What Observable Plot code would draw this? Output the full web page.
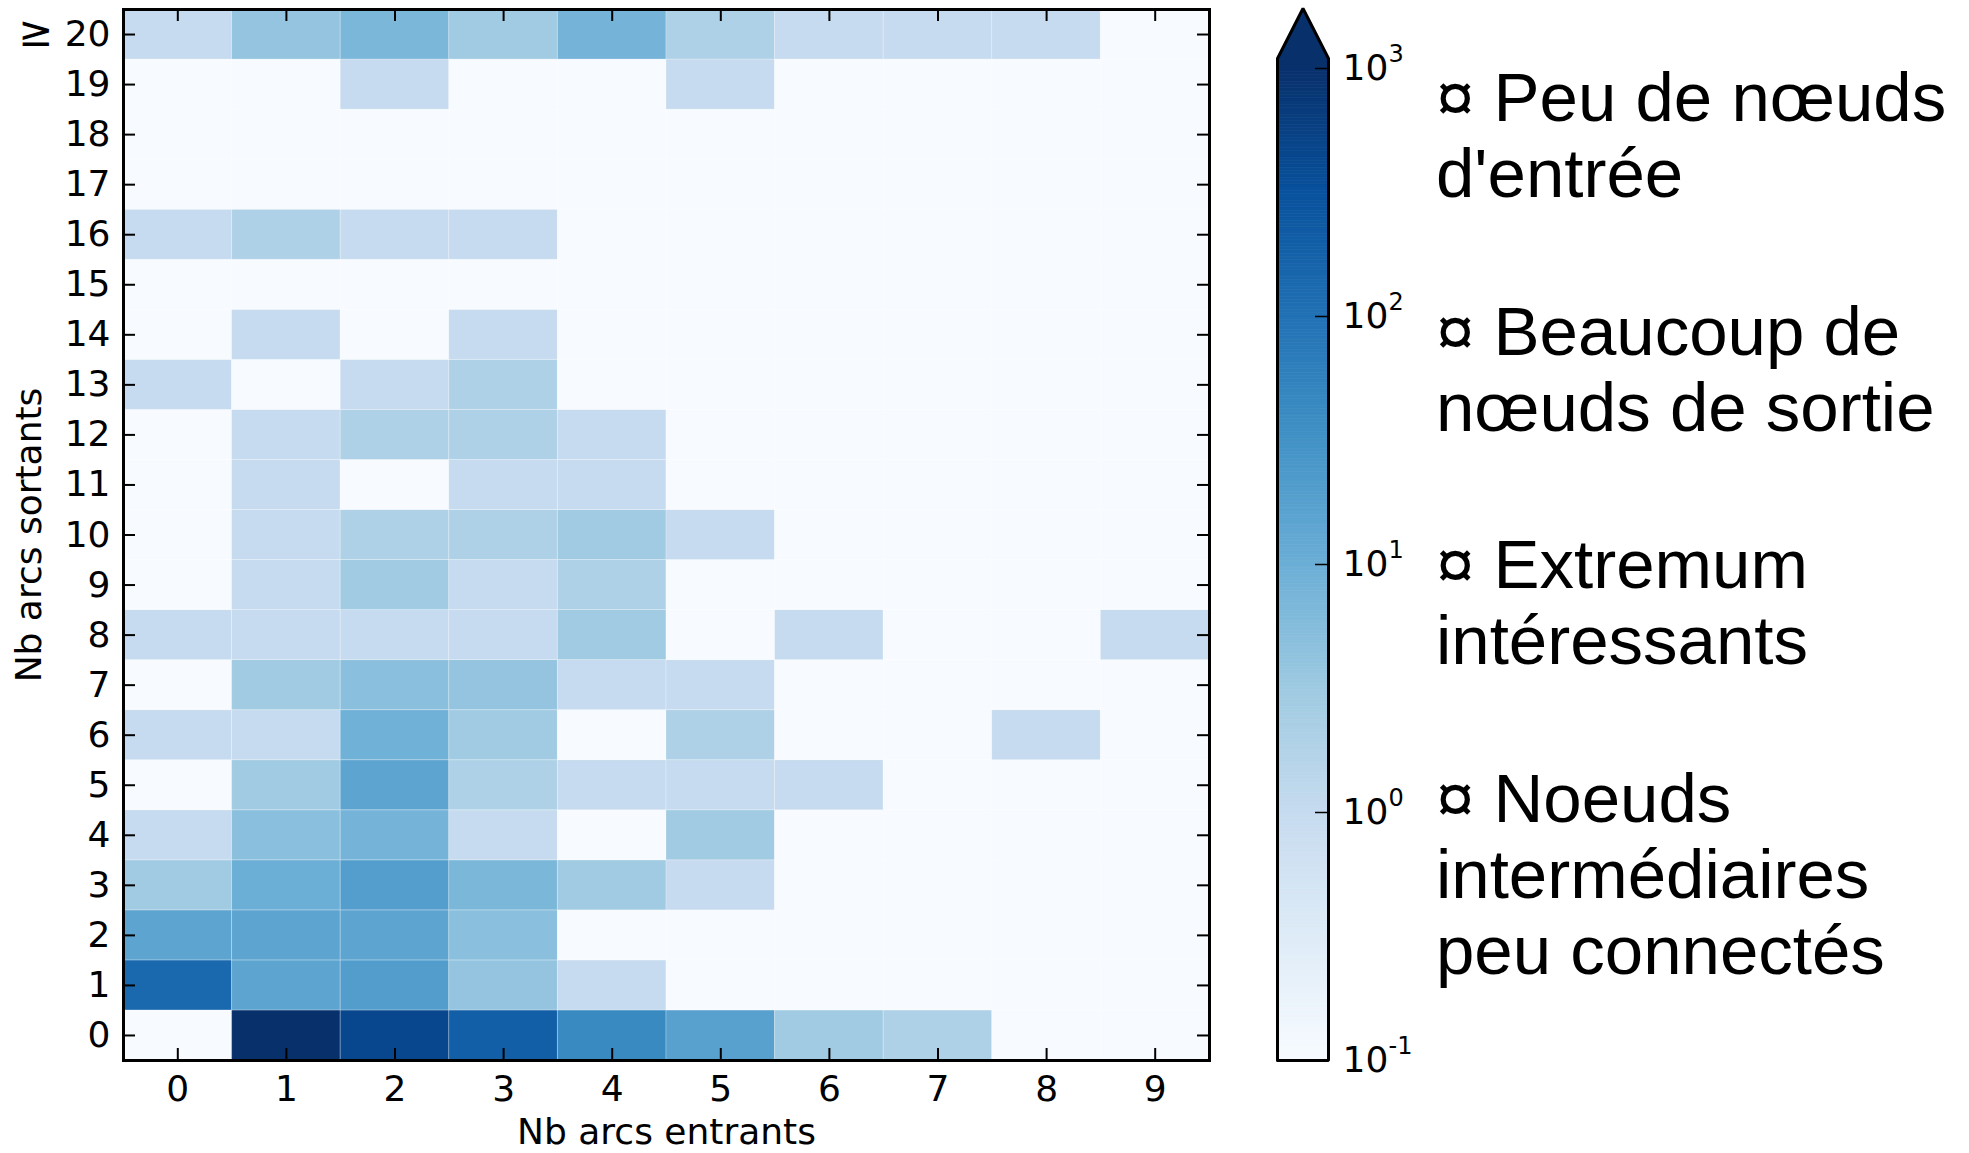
<!DOCTYPE html>
<html>
<head>
<meta charset="utf-8">
<script src="https://cdn.jsdelivr.net/npm/d3@7"></script>
<script src="https://cdn.jsdelivr.net/npm/@observablehq/plot@0.6"></script>
<style>
  html, body { margin: 0; padding: 0; background: #fff; }
  #wrap { position: relative; width: 1969px; height: 1153px; overflow: hidden; background: #fff; }
  #wrap svg { position: absolute; top: 0; }
  .leg { position: absolute; left: 1436px; font-family: "Liberation Sans", Arial, sans-serif;
         font-size: 69px; line-height: 76px; color: #000; white-space: nowrap; }
</style>
</head>
<body>
<div id="wrap"></div>
<script>
// ---- data ----
const cols = [0, 1, 2, 3, 4, 5, 6, 7, 8, 9];                 // Nb arcs entrants
const rows = [0, 1, 2, 3, 4, 5, 6, 7, 8, 9, 10, 11, 12, 13, 14, 15, 16, 17, 18, 19, 20]; // Nb arcs sortants
const colLabels = ["0", "1", "2", "3", "4", "5", "6", "7", "8", "9"];
const rowLabels = ["0", "1", "2", "3", "4", "5", "6", "7", "8", "9", "10", "11", "12", "13", "14",
                   "15", "16", "17", "18", "19", "≥ 20"];
// counts[row][col]
const counts = [
  [0, 1200, 450, 190, 42, 17, 3, 2, 0, 0],   // 0
  [140, 15, 20, 4, 1, 0, 0, 0, 0, 0],        // 1
  [15, 15, 15, 5, 0, 0, 0, 0, 0, 0],         // 2
  [3, 10, 19, 7, 3, 1, 0, 0, 0, 0],          // 3
  [1, 5, 8, 1, 0, 3, 0, 0, 0, 0],            // 4
  [0, 3, 15, 2, 1, 1, 1, 0, 0, 0],           // 5
  [1, 1, 9, 3, 0, 2, 0, 0, 1, 0],            // 6
  [0, 3, 5, 4, 1, 1, 0, 0, 0, 0],            // 7
  [1, 1, 1, 1, 3, 0, 1, 0, 0, 1],            // 8
  [0, 1, 3, 1, 2, 0, 0, 0, 0, 0],            // 9
  [0, 1, 2, 2, 3, 1, 0, 0, 0, 0],            // 10
  [0, 1, 0, 1, 1, 0, 0, 0, 0, 0],            // 11
  [0, 1, 2, 2, 1, 0, 0, 0, 0, 0],            // 12
  [1, 0, 1, 2, 0, 0, 0, 0, 0, 0],            // 13
  [0, 1, 0, 1, 0, 0, 0, 0, 0, 0],            // 14
  [0, 0, 0, 0, 0, 0, 0, 0, 0, 0],            // 15
  [1, 2, 1, 1, 0, 0, 0, 0, 0, 0],            // 16
  [0, 0, 0, 0, 0, 0, 0, 0, 0, 0],            // 17
  [0, 0, 0, 0, 0, 0, 0, 0, 0, 0],            // 18
  [0, 0, 1, 0, 0, 1, 0, 0, 0, 0],            // 19
  [1, 4, 7, 3, 8, 2, 1, 1, 1, 0]             // >= 20
];
const cbarDecades = [0.1, 1, 10, 100, 1000];
const cbarExponents = ["-1", "0", "1", "2", "3"];
const legendItems = [
  ["¤ Peu de nœuds", "d'entrée"],
  ["¤ Beaucoup de", "nœuds de sortie"],
  ["¤ Extremum", "intéressants"],
  ["¤ Noeuds", "intermédiaires", "peu connectés"]
];

// ---- colour scale (matplotlib "Blues", log norm 1e-1 .. 1e3) ----
const blues9 = ["#f7fbff", "#deebf7", "#c6dbef", "#9ecae1", "#6baed6", "#4292c6", "#2171b5", "#08519c", "#08306b"];
const colorScale = {type: "log", domain: [0.1, 1000], interpolate: d3.piecewise(d3.interpolateRgb, blues9), clamp: true};

const cells = rows.flatMap(r => cols.map(c => ({col: c, row: r, count: counts[r][c]})));

const W = 1969, H = 1153;
const mL = 123, mR = 760, mT = 9, mB = 93;
const frameW = W - mL - mR, frameH = H - mT - mB;
const tickLen = 12;
const font = "DejaVu Sans";

const main = Plot.plot({
  width: W, height: H,
  marginLeft: mL, marginRight: mR, marginTop: mT, marginBottom: mB,
  x: {domain: [-0.5, 9.5]},
  y: {domain: [-0.5, 20.5]},
  color: colorScale,
  style: {fontFamily: font, background: "transparent", maxWidth: "none", overflow: "visible"},
  marks: [
    Plot.rect(cells, {
      x1: d => d.col - 0.5, x2: d => d.col + 0.5,
      y1: d => d.row - 0.5, y2: d => d.row + 0.5,
      fill: d => Math.max(d.count, 0.1),
      stroke: "#ffffff", strokeOpacity: 0.25, strokeWidth: 1
    }),
    // inward ticks on all four sides
    Plot.tickX(cols, {x: d => d, insetTop: frameH - tickLen, stroke: "black", strokeWidth: 2}),
    Plot.tickX(cols, {x: d => d, insetBottom: frameH - tickLen, stroke: "black", strokeWidth: 2}),
    Plot.tickY(rows, {y: d => d, insetRight: frameW - tickLen, stroke: "black", strokeWidth: 2}),
    Plot.tickY(rows, {y: d => d, insetLeft: frameW - tickLen, stroke: "black", strokeWidth: 2}),
    Plot.axisX(cols, {anchor: "bottom", tickSize: 0, tickPadding: 15, fontSize: 36,
                      tickFormat: d => colLabels[d], label: null}),
    Plot.axisY(rows, {anchor: "left", tickSize: 0, tickPadding: 13, fontSize: 36,
                      tickFormat: d => rowLabels[d], label: null}),
    Plot.text(["Nb arcs entrants"], {text: d => d, frameAnchor: "bottom", dy: 72, fontSize: 36,
                                     textAnchor: "middle", lineAnchor: "middle"}),
    Plot.text(["Nb arcs sortants"], {text: d => d, frameAnchor: "left", dx: -94, rotate: -90, fontSize: 36,
                                     textAnchor: "middle", lineAnchor: "middle"}),
    Plot.frame({stroke: "black", strokeWidth: 3})
  ]
});
main.style.left = "0px";

// enlarge the "≥" sign of the top tick label, as in the reference
d3.select(main).selectAll("text").each(function () {
  const t = d3.select(this);
  if (t.text() === rowLabels[20]) {
    const parts = rowLabels[20].split(" ");
    t.text(null);
    t.append("tspan").attr("font-size", 42).text(parts[0]);
    t.append("tspan").text(" " + parts[1]);
  }
});

// ---- colour bar ----
const cbLeftPx = 1260;
const cbW = 220, cbMl = 17, cbBar = 51, cbMr = cbW - cbMl - cbBar;
const cbMt = 68, cbMb = 93;
const pxPerDecade = (H - cbMt - cbMb) / 4;
const yTop = 1000 * Math.pow(10, 10 / pxPerDecade);      // bar body top, just above 10^3
const yApex = 1000 * Math.pow(10, 60 / pxPerDecade);     // tip of the "extend max" arrow
const nSteps = 300;
const steps = d3.range(nSteps).map(i => ({
  y1: Math.pow(10, -1 + 4 * i / nSteps),
  y2: Math.pow(10, -1 + 4 * (i + 1) / nSteps)
}));

const cbar = Plot.plot({
  width: cbW, height: H,
  marginLeft: cbMl, marginRight: cbMr, marginTop: cbMt, marginBottom: cbMb,
  x: {domain: [0, 1], axis: null},
  y: {type: "log", domain: [0.1, 1000], axis: null},
  color: colorScale,
  style: {fontFamily: font, background: "transparent", maxWidth: "none", overflow: "visible"},
  marks: [
    Plot.rect(steps, {x1: 0, x2: 1, y1: "y1", y2: "y2",
                      fill: d => Math.sqrt(d.y1 * d.y2), stroke: d => Math.sqrt(d.y1 * d.y2), strokeWidth: 0.6}),
    Plot.rect([{y1: 1000, y2: yTop}], {x1: 0, x2: 1, y1: "y1", y2: "y2", fill: blues9[8]}),
    Plot.line([[0, yTop], [0.5, yApex], [1, yTop]], {fill: blues9[8], stroke: "none"}),
    Plot.tickY(cbarDecades, {y: d => d, insetLeft: cbBar - 13, stroke: "black", strokeWidth: 1.5}),
    Plot.line([[0, 0.1], [0, yTop], [0.5, yApex], [1, yTop], [1, 0.1], [0, 0.1]],
              {stroke: "black", strokeWidth: 3, strokeLinejoin: "miter"}),
    Plot.text(cbarDecades, {x: 1, y: d => d, dx: 14, text: () => "10", textAnchor: "start", fontSize: 36}),
    Plot.text(cbarDecades, {x: 1, y: d => d, dx: 60, dy: -14, text: (d, i) => cbarExponents[i],
                            textAnchor: "start", fontSize: 24})
  ]
});
cbar.style.left = cbLeftPx + "px";

const wrap = document.getElementById("wrap");
wrap.appendChild(main);
wrap.appendChild(cbar);

// ---- legend text ----
const legTop0 = 60, legStep = 233.6;
legendItems.forEach((lines, i) => {
  const div = document.createElement("div");
  div.className = "leg";
  div.style.top = (legTop0 + i * legStep) + "px";
  lines.forEach((t, j) => {
    if (j > 0) div.appendChild(document.createElement("br"));
    div.appendChild(document.createTextNode(t));
  });
  wrap.appendChild(div);
});
</script>
</body>
</html>
